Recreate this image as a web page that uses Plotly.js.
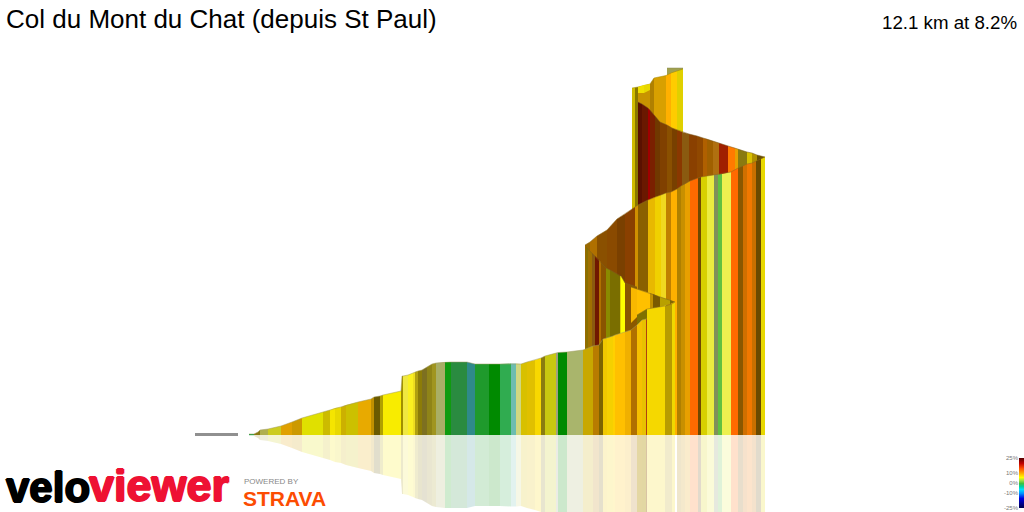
<!DOCTYPE html>
<html><head><meta charset="utf-8">
<script src="https://cdn.plot.ly/plotly-3.0.1.min.js"></script>
<style>html,body{margin:0;padding:0;background:#fff}#c{width:1024px;height:512px}</style>
</head><body><div id="c"></div>
<script>
const titleText = "Col du Mont du Chat (depuis St Paul)";
const statText = "12.1 km at 8.2%";

// Horizontal position along the picture, and height above the base line
const frontX = [249,254,258,260,268,281,292,302,323,330,335,341,346,358,371,374,380,383,401,402,403,408,413,415,418,422,427,432,436,445,451,467,475,489,500,511,516,521,527,535,541,545,556,558,567,583,593,599,603,607,613,615,625,631,637,642,646,647];
const frontH = [1,1,3,5,6,9,13,17,23,25,27,28,30,33,36,38,39,40,44,59,59,60,62,63,64,65,68,71,72,73,73,73,71,71,71,71.5,71.5,71,73,75,77,79,82,82.5,83,85,89,90,96,97,99,100,103,105,110,115,116,116];
const frontC = ["#20a040","#8a7a10","#8a7a10","#b0b050","#cccc20","#e0a000","#cc9900","#e0e000","#ccbb00","#f5e500","#e8d800","#ccb000","#ccc000","#e8aa00","#c09000","#6a5a00","#b0a000","#f8ec00","#a09000","#a09000","#f0e840","#faf020","#eedd20","#b0a010","#8c7c08","#7d7020","#8f8418","#a09520","#a9ae66","#0f9b0f","#2a8b40","#2f8a8a","#1f9a2c","#008a00","#30ac50","#6cbcb0","#d0d880","#d8c000","#e0c000","#f8d800","#8a7c10","#c8c810","#a0a080","#008a00","#a9b56c","#c8a800","#b87c00","#7d6400","#f0c800","#f5d000","#ffd000","#ffc000","#f0b000","#b07000","#f5c000","#e8c000","#b04010"];

const bandX = [637,642,647,665,672,675];
const bandH = [120,123,126,129,131,133];
const bandC = ["#807000","#807000","#f5d800","#b89c00","#f0d800"];

const foldX = [631,637,650,653,660,670,675];
const foldH = [148,146,142,141,138,135,133];
const foldB = [112,118,125,126,128,131,133];
const foldC = ["#f8b800","#ffc000","#c09000","#7a5a00","#b8a000","#806800"];

const innerX = [586,588,592,595,599,601,606,610,620,621,625,631,637];
const innerH = [188,186,182,179,175,173,167,165,159,159,152,150,148];
const innerC = ["#8a7000","#a07000","#8a5a10","#701800","#b07000","#8a5400","#8a8a00","#7a6e00","#e0d000","#ffff00","#8a5800","#8a5800"];

const sweepX = [585,590,597,607,617,625,635,638,648,655,661,666,671,677,681,685,690,698,701,707,714,718,722,731,738,743,747,752,756,761,765];
const sweepH = [190,193,199,205,216,221,228,230,235,238,240,242,243,246,249,251,254,257,258,259,260,260.5,261,263,267,269,271,272,274,276,278];
const sweepC = ["#9a6a00","#b07000","#8a5000","#8a4a00","#7a4000","#8a4000","#d09000","#8a6000","#e8b800","#f0d000","#f0d820","#c08000","#ffb000","#b08000","#c89000","#e8a000","#ff6a00","#704800","#d8d000","#ecec40","#80905a","#60c040","#ecf050","#ff6a00","#8a5800","#d07000","#f07800","#c87000","#6a4a00","#e8d800"];

const darkX = [638,642,648,650,655,660,667,672,677,682,689,697,703,707,713,719,728,735,738,747,752,757,765];
const darkH = [333,331,327,325,319,313,310,307,305,303,301,299,297,296,294,292,289,287,286,283,282,280,278];
const darkC = ["#5a1000","#6a1800","#a00000","#7a2000","#703800","#804000","#8a5000","#784000","#8a3800","#8a5a10","#8a4000","#904800","#b06000","#a06000","#b07010","#a02000","#ff7a00","#e8a000","#8a7a10","#d8c000","#b09000","#6a5000"];

const capX = [638,644,650];
const capH = [348,350,351];
const capB = [342,342,345];
const capC = ["#f0e000","#e8d800"];

const columnX = [632,635,638,650];
const columnH = [347,347.5,348,351];
const columnC = ["#d0bc00","#8a7800","#c89400"];

const spireX = [650,654,666,671,677,683];
const spireH = [351,357,359.5,362,364,366];
const spireC = ["#b08000","#d8a000","#ffb000","#ffcc00","#e0d000"];

const backX = [667,683];
const backH = [367,367];
const backC = ["#a0a050"];

const idleX = [195,238];
const idleH = [2,2];
const idleB = [-1,-1];
const idleC = ["#909090"];

const grades = [25,20,15,10,6,3,0,-3,-6,-10,-15,-20,-25];
const gradeColors = ["#600000","#c00000","#ff5000","#ffb000","#ffff00","#a0e040","#40c040","#00d0a0","#00e0ff","#0090ff","#0000e0","#000090","#000040"];
const gradeTicks = [25,10,0,-10,-25];
const gradeLabels = ["25%","10%","0%","-10%","-25%"];

const traces = [];
function ribbon(xs, hs, cols, base, edge) {
  for (let i = 0; i < cols.length; i++) {
    const b0 = base ? base[i] : 0, b1 = base ? base[i+1] : 0;
    traces.push({type:"scatter", mode:"lines", x:[xs[i],xs[i+1],xs[i+1],xs[i],xs[i]], y:[hs[i],hs[i+1],b1,b0,hs[i]],
      fill:"toself", fillcolor:cols[i], line:{width:0}, hoverinfo:"skip", showlegend:false});
  }
  if (edge) traces.push({type:"scatter", mode:"lines", x:xs, y:hs, line:{width:0.5,color:edge}, hoverinfo:"skip", showlegend:false});
}
function mirror(xs, hs, cols) {
  for (let i = 0; i < cols.length; i++) {
    traces.push({type:"scatter", mode:"lines", x:[xs[i],xs[i+1],xs[i+1],xs[i],xs[i]], y:[-hs[i],-hs[i+1],0,0,-hs[i]],
      fill:"toself", fillcolor:cols[i], opacity:0.2, line:{width:0}, hoverinfo:"skip", showlegend:false});
  }
}
ribbon(backX, backH, backC, null, "#8a8a50");
ribbon(columnX, columnH, columnC, null, "#a09000");
ribbon(capX, capH, capC, capB);
ribbon(spireX, spireH, spireC, null, "#a08800");
ribbon(darkX, darkH, darkC, null, "#7a5a20");
ribbon(sweepX, sweepH, sweepC, null, "#8a6a20");
ribbon(innerX, innerH, innerC, null, "#7a6020");
ribbon(foldX, foldH, foldC, foldB, "#7a6020");
ribbon(bandX, bandH, bandC, null, "#8a7020");
ribbon(frontX, frontH, frontC, null, "#a09a60");
ribbon(idleX, idleH, idleC, idleB);

const cut = sweepX.indexOf(677);
mirror(frontX, frontH, frontC);
mirror(bandX, bandH, bandC);
mirror(sweepX.slice(cut), sweepH.slice(cut), sweepC.slice(cut));

traces.push({type:"heatmap", xaxis:"x2", yaxis:"y2", x:[0,1], y:grades, z:grades.map(g=>[g,g]), zmin:-25, zmax:25, showscale:false, hoverinfo:"skip",
  colorscale:gradeColors.map((c,i)=>[(grades[i]+25)/50,c]).reverse(), zsmooth:"best"});

const heavy = c => `1px 0 0 ${c}, -1px 0 0 ${c}, 0 1px 0 ${c}, 0 -1px 0 ${c}`;
const layout = {
  width:1024, height:512, margin:{l:0,r:0,t:0,b:0}, paper_bgcolor:"#fff", plot_bgcolor:"#fff", showlegend:false,
  title:{text:titleText, x:6/1024, xanchor:"left", xref:"paper", y:1-18.5/512, yanchor:"middle", yref:"container",
         font:{family:"Liberation Sans",size:26,color:"#000"}},
  xaxis:{range:[0,1024],visible:false,fixedrange:true},
  yaxis:{range:[-77,435],visible:false,fixedrange:true},
  xaxis2:{domain:[1019/1024,1],range:[0,1],visible:false,anchor:"y2"},
  yaxis2:{domain:[4/512,54/512],range:[-25,25],anchor:"x2",side:"left",tickvals:gradeTicks,ticktext:gradeLabels,ticks:"",showgrid:false,zeroline:false,showline:false,ticklen:0,
          tickfont:{family:"Liberation Sans",size:6,color:"#777"}},
  annotations:[
    {text:statText,xref:"x",yref:"y",x:1019,y:413,xanchor:"right",yanchor:"middle",showarrow:false,font:{family:"Liberation Sans",size:18.7,color:"#000"}},
    {text:"<b>velo</b>",xref:"x",yref:"y",x:5,y:-77,xanchor:"left",yanchor:"bottom",borderpad:0,showarrow:false,font:{family:"Liberation Sans",size:42,color:"#000",shadow:heavy("#000")}},
    {text:"<b>viewer</b>",xref:"x",yref:"y",x:88,y:-77,xanchor:"left",yanchor:"bottom",borderpad:0,showarrow:false,font:{family:"Liberation Sans",size:45,color:"#ee1133",shadow:heavy("#ee1133")}},
    {text:"POWERED BY",xref:"x",yref:"y",x:242,y:-46,xanchor:"left",yanchor:"middle",showarrow:false,font:{family:"Liberation Sans",size:8,color:"#888"}},
    {text:"<b>STRAVA</b>",xref:"x",yref:"y",x:241,y:-63,xanchor:"left",yanchor:"middle",showarrow:false,font:{family:"Liberation Sans",size:21,color:"#fc4c02"}}
  ]
};
Plotly.newPlot("c", traces, layout, {staticPlot:true, displayModeBar:false});
</script></body></html>
